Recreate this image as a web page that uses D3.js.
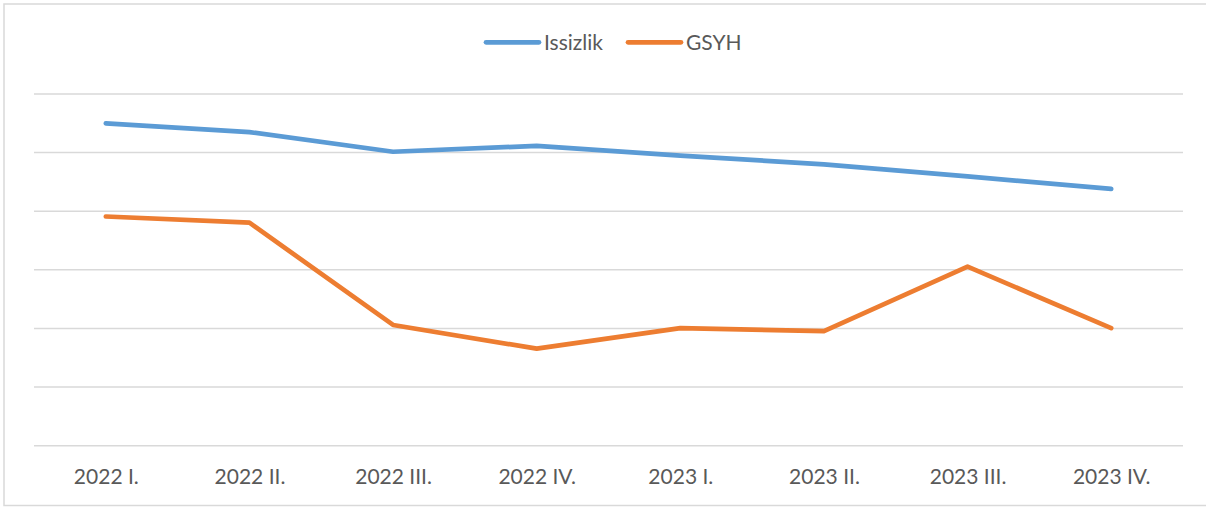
<!DOCTYPE html>
<html>
<head>
<meta charset="utf-8">
<script src="https://cdn.jsdelivr.net/npm/d3@7"></script>
<style>
  html, body { margin: 0; padding: 0; background: #fff; }
  svg { display: block; }
</style>
</head>
<body>
<svg id="chart" width="1206" height="507"></svg>
<script>
const categories = ["2022 I.", "2022 II.", "2022 III.", "2022 IV.", "2023 I.", "2023 II.", "2023 III.", "2023 IV."];
const issizlik = [11.0, 10.7, 10.03, 10.23, 9.9, 9.6, 9.19, 8.76];
const gsyh = [7.82, 7.61, 4.12, 3.31, 4.01, 3.91, 6.11, 4.01];
const seriesNames = ["Issizlik", "GSYH"];
const seriesColors = ["#5B9BD5", "#ED7D31"];
const yTicks = [0, 2, 4, 6, 8, 10, 12];

const svg = d3.select("#chart");
const font = "Lato, 'Open Sans', sans-serif";
const textColor = "#595959";

// chart border
svg.append("rect")
  .attr("x", 4).attr("y", 4)
  .attr("width", 1210).attr("height", 501.5)
  .attr("fill", "#fff")
  .attr("stroke", "#d9d9d9").attr("stroke-width", 1.5);

const x = d3.scalePoint().domain(categories).range([34, 1183]).padding(0.5);
const y = d3.scaleLinear().domain([0, 12]).range([445.7, 94]);

// gridlines
svg.append("g").selectAll("line").data(yTicks).join("line")
  .attr("x1", 34).attr("x2", 1183)
  .attr("y1", d => y(d)).attr("y2", d => y(d))
  .attr("stroke", "#d9d9d9").attr("stroke-width", 1.5);

// x axis labels
const xAxis = d3.axisBottom(x).tickSize(0).tickPadding(0);
const gx = svg.append("g").attr("transform", "translate(0,476.5)").call(xAxis);
gx.select(".domain").remove();
gx.selectAll("text")
  .attr("dy", "0.35em")
  .attr("font-family", font).attr("font-size", 21)
  .attr("fill", textColor);

// lines
const data = [issizlik, gsyh];
const line = d3.line().x((d, i) => x(categories[i])).y(d => y(d));
svg.append("g").selectAll("path").data(data).join("path")
  .attr("d", d => line(d))
  .attr("fill", "none")
  .attr("stroke", (d, i) => seriesColors[i])
  .attr("stroke-width", 4.7)
  .attr("stroke-linecap", "round")
  .attr("stroke-linejoin", "round");

// legend
const legendItems = [
  { name: seriesNames[0], color: seriesColors[0], x0: 486 },
  { name: seriesNames[1], color: seriesColors[1], x0: 628 }
];
const lg = svg.append("g");
legendItems.forEach(it => {
  lg.append("line")
    .attr("x1", it.x0).attr("x2", it.x0 + 53)
    .attr("y1", 42.3).attr("y2", 42.3)
    .attr("stroke", it.color).attr("stroke-width", 4.7)
    .attr("stroke-linecap", "round");
  lg.append("text")
    .attr("x", it.x0 + 58).attr("y", 42.3)
    .attr("dy", "0.35em")
    .attr("font-family", font).attr("font-size", 21)
    .attr("fill", textColor)
    .text(it.name);
});
</script>
</body>
</html>
